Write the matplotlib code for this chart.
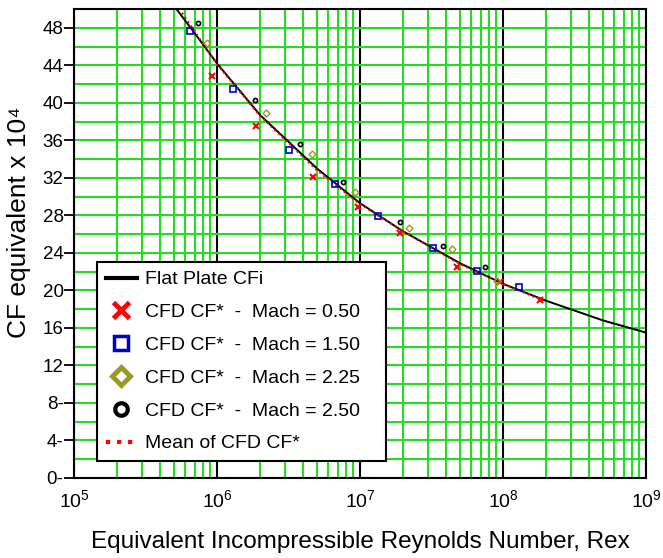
import numpy as np
import matplotlib
matplotlib.use("Agg")
import matplotlib.pyplot as plt
from matplotlib.lines import Line2D
from matplotlib.ticker import FixedLocator, LogFormatterMathtext, NullFormatter

plt.rcParams['font.family'] = ['Liberation Sans', 'DejaVu Sans']
plt.rcParams['mathtext.default'] = 'regular'

# flat plate skin friction line
flat_re = [5.2e5, 7e5, 1e6, 2e6, 5e6, 1e7, 2e7, 5e7, 1e8, 2e8, 5e8, 1e9]
flat_cf = [50.0, 47.4, 44.2, 38.7, 33.0, 29.3, 26.3, 22.9, 20.7, 18.9, 16.8, 15.5]

# CFD results by Mach number
m050_re = [9.2e5, 1.88e6, 4.7e6, 9.7e6, 1.9e7, 4.8e7, 9.5e7, 1.8e8]
m050_cf = [42.9, 37.5, 32.1, 28.9, 26.1, 22.5, 20.9, 19.0]

m150_re = [6.5e5, 1.29e6, 3.2e6, 6.7e6, 1.34e7, 3.24e7, 6.6e7, 1.29e8]
m150_cf = [47.7, 41.5, 35.0, 31.3, 27.9, 24.5, 22.1, 20.4]

m225_re = [8.5e5, 2.2e6, 4.6e6, 9.2e6, 2.2e7, 4.4e7, 9.1e7]
m225_cf = [46.4, 38.9, 34.5, 30.5, 26.6, 24.4, 21.0]

m250_re = [7.4e5, 1.85e6, 3.8e6, 7.6e6, 1.9e7, 3.8e7, 7.5e7]
m250_cf = [48.5, 40.3, 35.6, 31.6, 27.3, 24.7, 22.5]

mean_re = [5.7e5, 1e6, 2e6, 5e6, 1e7, 2e7, 5e7, 1e8, 2e8]
mean_cf = [49.6, 44.1, 38.6, 32.8, 29.2, 26.3, 22.8, 20.7, 18.8]

y_ticks = [0, 4, 8, 12, 16, 20, 24, 28, 32, 36, 40, 44, 48]
y_labels = ['0-', '4-', '8-', '12', '16', '20', '24', '28', '32',
            '36', '40', '44', '48']

GREEN = '#22dd22'
OLIVE = '#9a9a1c'

fig = plt.figure(figsize=(6.63, 5.58), dpi=100)
ax = fig.add_axes([74 / 663, 1 - 478 / 558, 572 / 663, 469 / 558])

ax.set_xscale('log')
ax.set_xlim(1e5, 1e9)
ax.set_ylim(0, 50)

# grid: green minor/2-unit lines, black decade lines
ax.xaxis.set_major_locator(FixedLocator([1e5, 1e6, 1e7, 1e8, 1e9]))
minor_x = [m * 10 ** d for d in range(5, 9) for m in range(2, 10)]
ax.xaxis.set_minor_locator(FixedLocator(minor_x))
ax.xaxis.set_major_formatter(LogFormatterMathtext())
ax.xaxis.set_minor_formatter(NullFormatter())
ax.yaxis.set_major_locator(FixedLocator(y_ticks))
ax.yaxis.set_minor_locator(FixedLocator(np.arange(2, 50, 4)))
ax.set_yticklabels(y_labels)

ax.grid(True, which='minor', axis='x', color=GREEN, lw=1.5)
ax.grid(True, which='major', axis='x', color='black', lw=1.5)
ax.grid(True, which='both', axis='y', color=GREEN, lw=1.5)
ax.set_axisbelow(True)

ax.tick_params(which='both', length=0)
ax.tick_params(axis='x', pad=8, labelsize=14)
ax.tick_params(axis='y', which='major', length=7, width=1.3, pad=0.5,
               labelsize=13.5)
for sp in ax.spines.values():
    sp.set_linewidth(1.5)

ax.plot(flat_re, flat_cf, color='black', lw=1.4, zorder=3)
ax.plot(mean_re, mean_cf, color='red', ls=':', lw=1.4, zorder=3)
ax.plot(m050_re, m050_cf, 'x', color='red', ms=4.5, mew=1.5, zorder=4)
ax.plot(m150_re, m150_cf, 's', color='#0000cc', mfc='none', ms=4.5, mew=1.2, zorder=4)
ax.plot(m225_re, m225_cf, 'D', color=OLIVE, mfc='none', ms=3.5, mew=1.0, zorder=4)
ax.plot(m250_re, m250_cf, 'o', color='black', mfc='none', ms=3.0, mew=1.2, zorder=4)

ax.set_xlabel('Equivalent Incompressible Reynolds Number, Rex', fontsize=17.5)
ax.xaxis.set_label_coords(0.5, -0.113)
ax.set_ylabel('CF equivalent x 10\u2074', fontsize=19)
ax.yaxis.set_label_coords(-0.076, 0.545)

handles = [
    Line2D([], [], color='black', lw=3),
    Line2D([], [], ls='none', marker='x', color='red', ms=11, mew=3.5),
    Line2D([], [], ls='none', marker='s', color='#0000cc', mfc='none', ms=10, mew=2.5),
    Line2D([], [], ls='none', marker='D', color=OLIVE, mfc='none', ms=9, mew=3.5),
    Line2D([], [], ls='none', marker='o', color='black', mfc='none', ms=9, mew=3),
    Line2D([], [], color='red', ls=':', lw=3),
]
labels = ['Flat Plate CFi',
          'CFD CF*  -  Mach = 0.50',
          'CFD CF*  -  Mach = 1.50',
          'CFD CF*  -  Mach = 2.25',
          'CFD CF*  -  Mach = 2.50',
          'Mean of CFD CF*']
leg = ax.legend(handles, labels, loc='lower left',
                bbox_to_anchor=(0.040, 0.036, 0.505, 0.424), mode='expand',
                borderaxespad=0, fontsize=14, fancybox=False, framealpha=1,
                edgecolor='black', handlelength=1.6, handletextpad=0.4,
                labelspacing=0.78, borderpad=0.45)
leg.get_frame().set_linewidth(1.5)
leg.set_zorder(5)

fig.savefig('out.png', dpi=100)
